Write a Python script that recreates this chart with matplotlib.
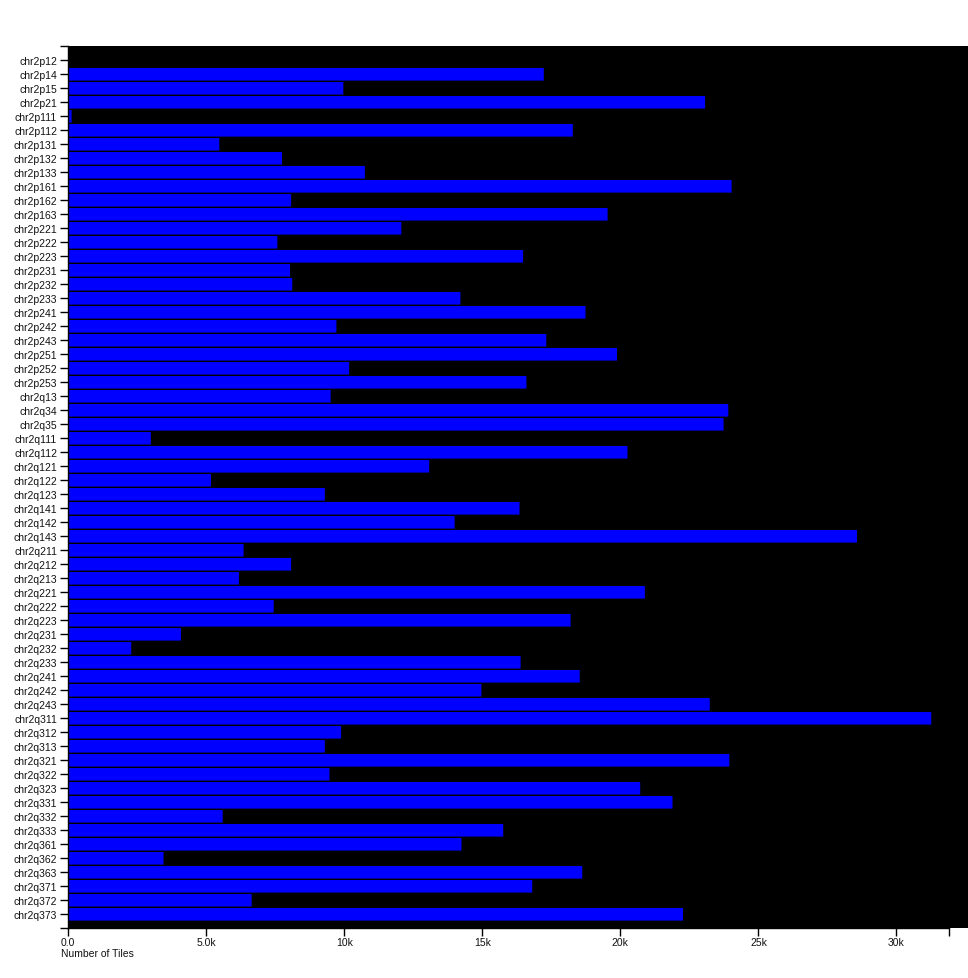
import matplotlib
matplotlib.use("Agg")
import matplotlib.pyplot as plt
from matplotlib.ticker import FuncFormatter, FixedLocator

categories = [
    "chr2p12", "chr2p14", "chr2p15", "chr2p21", "chr2p111", "chr2p112", "chr2p131", "chr2p132",
    "chr2p133", "chr2p161", "chr2p162", "chr2p163", "chr2p221", "chr2p222", "chr2p223", "chr2p231",
    "chr2p232", "chr2p233", "chr2p241", "chr2p242", "chr2p243", "chr2p251", "chr2p252", "chr2p253",
    "chr2q13", "chr2q34", "chr2q35", "chr2q111", "chr2q112", "chr2q121", "chr2q122", "chr2q123",
    "chr2q141", "chr2q142", "chr2q143", "chr2q211", "chr2q212", "chr2q213", "chr2q221", "chr2q222",
    "chr2q223", "chr2q231", "chr2q232", "chr2q233", "chr2q241", "chr2q242", "chr2q243", "chr2q311",
    "chr2q312", "chr2q313", "chr2q321", "chr2q322", "chr2q323", "chr2q331", "chr2q332", "chr2q333",
    "chr2q361", "chr2q362", "chr2q363", "chr2q371", "chr2q372", "chr2q373",
]

tiles = [
    0, 17230, 9970, 23070, 130, 18280, 5480, 7750,
    10750, 24030, 8080, 19540, 12070, 7580, 16480, 8040,
    8120, 14210, 18740, 9720, 17320, 19880, 10180, 16600,
    9510, 23910, 23740, 3000, 20260, 13080, 5180, 9300,
    16350, 14000, 28570, 6360, 8080, 6190, 20890, 7450,
    18200, 4090, 2290, 16390, 18530, 14970, 23240, 31260,
    9890, 9300, 23950, 9470, 20720, 21890, 5600, 15760,
    14250, 3460, 18620, 16810, 6650, 22270,
]

x_ticks = [0, 5000, 10000, 15000, 20000, 25000, 30000]
x_domain_end = 31900

plt.rcParams['font.family'] = ['Liberation Sans', 'DejaVu Sans']

W, H = 968, 979
fig = plt.figure(figsize=(W / 100, H / 100), dpi=100)
fig.patch.set_facecolor('white')

left, right, top, bottom = 68, 968, 47, 929
ax = fig.add_axes([left / W, 1 - bottom / H, (right - left) / W, (bottom - top) / H])
ax.set_facecolor('black')

n = len(categories)
step_px = (bottom - top) / (n + 1)   # 14 px per category slot
positions = list(range(1, n + 1))
bar_starts = [p - 6 / step_px for p in positions]
bars = ax.barh(bar_starts, tiles, height=12.6 / step_px, align='edge',
               color='#0000ff', linewidth=0)
for b in bars:
    b.set_snap(False)

ax.set_ylim(n + 1, 0)
ax.set_xlim(0, (right - 68.5) / 27.6 * 1000)

ax.set_yticks(positions)
ax.set_yticklabels(categories)
ax.yaxis.set_minor_locator(FixedLocator([0, n + 1]))

ax.set_xticks(x_ticks)
def fmt(v, pos):
    if v == 0:
        return "0.0"
    if v < 10000:
        return f"{v/1000:.1f}k"
    return f"{v/1000:.0f}k"
ax.xaxis.set_major_formatter(FuncFormatter(fmt))
ax.xaxis.set_minor_locator(FixedLocator([x_domain_end]))

ax.tick_params(axis='both', which='both', length=6, width=1, color='black',
               labelsize=7.5, labelcolor='#111111')
ax.tick_params(axis='y', which='both', pad=1.8)
ax.tick_params(axis='x', which='both', pad=0.5)

for s in ['top', 'right']:
    ax.spines[s].set_visible(False)
for s in ['left', 'bottom']:
    ax.spines[s].set_color('black')
    ax.spines[s].set_linewidth(1)
ax.spines['bottom'].set_bounds(0, x_domain_end)

fig.text(61 / W, 1 - 954 / H, "Number of Tiles", ha='left', va='center',
         fontsize=7.5, color='#111111')

fig.savefig("out.png", dpi=100)
